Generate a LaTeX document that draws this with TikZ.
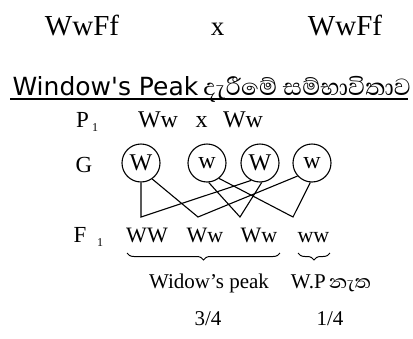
\documentclass[tikz,border=0pt]{standalone}
\usepackage{fontspec}
\setmainfont{Liberation Serif}
\newfontfamily\dejavu[Ligatures=TeXOff]{DejaVu Sans}
\newfontfamily\sinhfont[Script=Sinhala]{Abhaya Libre}
\usetikzlibrary{decorations.pathreplacing}
\begin{document}
\begin{tikzpicture}[x=1pt,y=-1pt,line width=1.1pt,
  txt/.style={anchor=base,inner sep=0pt},
  big/.style={txt,font=\fontsize{29}{35}\selectfont},
  mid/.style={txt,font=\fontsize{23}{28}\selectfont},
  small/.style={txt,font=\fontsize{21}{25}\selectfont},
  sub/.style={txt,font=\fontsize{12}{14}\selectfont},
  gam/.style={circle,draw,line width=1.1pt,minimum size=38pt,inner sep=0pt,font=\fontsize{24}{28}\selectfont},
  conn/.style={line width=1.1pt},
  brc/.style={decorate,decoration={brace,mirror,amplitude=7pt},line width=1pt}]
\useasboundingbox (0,0) rectangle (413,338);
% parents
\node[big] (pa) at (82,35) {WwFf};
\node[big,font=\fontsize{27}{32}\selectfont] (cross) at (217.5,35) {x};
\node[big] (pb) at (345,35) {WwFf};
% title
\node[txt,anchor=base west] (title) at (12,95)
  {{\dejavu\fontsize{25}{30}\selectfont Window's Peak}\hspace{5pt}{\sinhfont\fontsize{30}{34}\selectfont දැරීමේ සම්භාවිතාව}};
\coordinate (ul1) at (10,99);
\coordinate (ul2) at (408,99);
\draw[line width=1.2pt] (ul1) -- (ul2);
% P1 row
\node[mid] (P) at (82.5,127) {P};
\node[sub] (P1) at (95,131) {1};
\node[txt,font=\fontsize{24}{28}\selectfont] (p1) at (158,127) {Ww};
\node[txt,font=\fontsize{24}{28}\selectfont] (px) at (201.5,127) {x};
\node[txt,font=\fontsize{24}{28}\selectfont] (p2) at (243,127) {Ww};
% G row
\node[mid] (G) at (84,172) {G};
\node[gam] (g1) at (141,163) {W};
\node[gam] (g2) at (207,163) {w};
\node[gam] (g3) at (260,163) {W};
\node[gam] (g4) at (312,163) {w};
% F1 row
\node[mid] (F) at (80,242) {F};
\node[sub] (F1) at (100,246) {1};
\node[txt,font=\fontsize{22}{26}\selectfont] (f1) at (147,242) {WW};
\node[txt,font=\fontsize{22}{26}\selectfont] (f2) at (205,242) {Ww};
\node[txt,font=\fontsize{22}{26}\selectfont] (f3) at (259,242) {Ww};
\node[txt,font=\fontsize{22}{26}\selectfont] (f4) at (313.5,242) {ww};
% junctions
\coordinate (j1) at (141,217);
\coordinate (j2) at (198,217);
\coordinate (j3) at (240,217);
\coordinate (j4) at (293,217);
\draw[conn] (g1.south) -- (j1) -- (g3.243);
\draw[conn] (g1.305) -- (j2) -- (g4.222);
\draw[conn] (g2.275) -- (j3) -- (g3.275);
\draw[conn] (g2.308) -- (j4) -- (g4.265);
% braces
\coordinate (b1) at (127,253);
\coordinate (b2) at (280,253);
\coordinate (b3) at (298,253);
\coordinate (b4) at (330,253);
\draw[brc] (b1) -- (b2);
\draw[brc] (b3) -- (b4);
% results
\node[small] (wp) at (209,288) {Widow's peak};
\node[small] (nwp) at (331,288) {W.P\hspace{3pt}{\sinhfont\fontsize{24}{28}\selectfont නැත}};
\node[small] (r1) at (208,325) {3/4};
\node[small] (r2) at (330,325) {1/4};
\end{tikzpicture}
\end{document}
